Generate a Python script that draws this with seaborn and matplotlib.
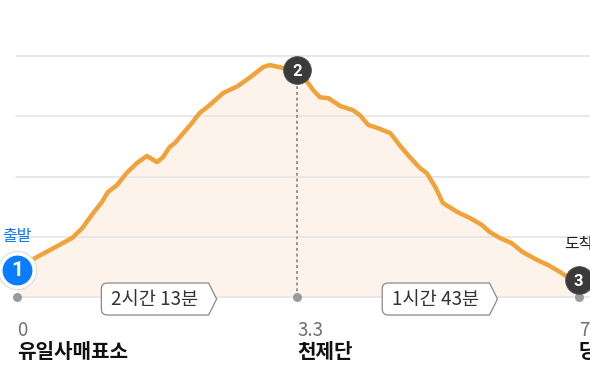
import numpy as np
import pandas as pd
import matplotlib
matplotlib.use("Agg")
import matplotlib.pyplot as plt
import seaborn as sns
from matplotlib.path import Path

# ---- data ----
dist = [0.00, 0.21, 0.39, 0.65, 0.77, 0.88, 1.00, 1.07, 1.18, 1.29, 1.41, 1.53, 1.65,
        1.72, 1.80, 1.86, 1.96, 2.06, 2.15, 2.27, 2.43, 2.60, 2.75, 2.90, 2.98, 3.14,
        3.30, 3.39, 3.49, 3.57, 3.67, 3.81, 3.96, 4.04, 4.14, 4.25, 4.40, 4.51, 4.63,
        4.75, 4.83, 4.93, 5.02, 5.19, 5.34, 5.48, 5.57, 5.69, 5.83, 5.96, 6.13, 6.26,
        6.40, 6.49, 6.62]
elev = [890, 929, 956, 996, 1029, 1072, 1115, 1148, 1172, 1211, 1244, 1268, 1248,
        1264, 1298, 1311, 1344, 1377, 1410, 1437, 1477, 1500, 1530, 1563, 1570, 1560,
        1553, 1526, 1487, 1463, 1460, 1434, 1420, 1404, 1371, 1361, 1344, 1304, 1264,
        1228, 1211, 1165, 1112, 1082, 1062, 1039, 1016, 996, 979, 949, 923, 906,
        883, 866, 856]

wp_dist = [0.0, 3.3, 6.62]
wp_elev = [890, 1553, 856]
wp_num = ["1", "2", "3"]
wp_tick = ["0", "3.3", "7"]
wp_name = ["유일사매표소", "천제단", "당골"]
seg_time = ["2시간 13분", "1시간 43분"]
grid_levels = [800, 1000, 1200, 1400, 1600]

df = pd.DataFrame({"dist": dist, "elev": elev})

sns.set_theme(style="white")
plt.rcParams["font.family"] = ["Noto Sans CJK KR", "DejaVu Sans"]

W, H, DPI = 590, 383, 100
fig = plt.figure(figsize=(W / DPI, H / DPI), dpi=DPI)
ax = fig.add_axes([16 / W, 86 / H, 574 / W, 241 / H])
px_per_km = 84.85
ax.set_xlim(-1 / px_per_km, 574 / px_per_km - 1 / px_per_km)
ax.set_ylim(grid_levels[0], grid_levels[-1])
ax.set_axis_off()

base = grid_levels[0]
LINE = "#f0a23b"

# fill
ax.fill_between(df["dist"], df["elev"], base, color="#fdf3ea", lw=0, zorder=1)
# grid
for g in grid_levels:
    ax.axhline(g, color="#e6e6e6", lw=1.3, zorder=2, clip_on=False)
# dotted drop line at summit waypoint
ax.vlines(wp_dist[1], base, wp_elev[1], colors="#8c8c8c", linestyles=(0, (1.6, 1.6)),
          lw=1.3, zorder=3)
# profile line
sns.lineplot(data=df, x="dist", y="elev", color=LINE, lw=3.2, ax=ax, zorder=4,
             solid_joinstyle="round", solid_capstyle="round")
ax.set_axis_off()

# baseline dots
ax.plot(wp_dist, [base] * 3, "o", ms=6.5, color="#9a9a9a", mec="none", zorder=5,
        clip_on=False)

# waypoint markers
ax.plot(wp_dist[0], wp_elev[0], "o", ms=27.5, mfc="white", mec="#dcdcdc", mew=0.8,
        zorder=6, clip_on=False)
ax.plot(wp_dist[0], wp_elev[0], "o", ms=21.5, mfc="#0a7cff", mec="none", zorder=7,
        clip_on=False)
for i in (1, 2):
    ax.plot(wp_dist[i], wp_elev[i], "o", ms=20, mfc="#3a3a3a", mec="#555555", mew=0.6,
            zorder=6, clip_on=False)
num_sizes = [15, 12, 12]
for i in range(3):
    ax.annotate(wp_num[i], (wp_dist[i], wp_elev[i]), xytext=(0, -1),
                textcoords="offset pixels", ha="center", va="center",
                fontsize=num_sizes[i], fontweight="bold", color="white",
                family=["Roboto", "DejaVu Sans"], zorder=8, annotation_clip=False)

# start / end tags
ax.annotate("출발", (wp_dist[0], base), xytext=(0, 60), textcoords="offset pixels",
            ha="center", va="center", fontsize=11.5, color="#0f78f2",
            annotation_clip=False)
ax.annotate("도착", (wp_dist[2], base), xytext=(0, 52), textcoords="offset pixels",
            ha="center", va="center", fontsize=11.5, color="#222222",
            annotation_clip=False)

# distance ticks and names
for i in range(3):
    ax.annotate(wp_tick[i], (wp_dist[i], base), xytext=(0, -33),
                textcoords="offset pixels", ha="left", va="center", fontsize=13.5,
                color="#707070", annotation_clip=False)
    ax.annotate(wp_name[i], (wp_dist[i], base), xytext=(0, -55),
                textcoords="offset pixels", ha="left", va="center", fontsize=14.5,
                fontweight="bold", color="#111111", annotation_clip=False)


# chevron tag box
def tag_box(x0, y0, width, height, mutation_size):
    padx, half_h, tip, r = 10.0, 16.0, 8.0, 6.0
    cy = y0 + height / 2.0
    left, right = x0 - padx, x0 + width + padx
    bot, top = cy - half_h, cy + half_h
    verts = [
        (left + r, bot), (right, bot), (right + tip, cy), (right, top),
        (left + r, top), (left, top), (left, top - r),
        (left, bot + r), (left, bot), (left + r, bot), (left + r, bot),
    ]
    codes = [Path.MOVETO, Path.LINETO, Path.LINETO, Path.LINETO,
             Path.LINETO, Path.CURVE3, Path.CURVE3,
             Path.LINETO, Path.CURVE3, Path.CURVE3, Path.CLOSEPOLY]
    return Path(verts, codes)


for k in range(2):
    mid = (wp_dist[k] + wp_dist[k + 1]) / 2.0
    ax.annotate(seg_time[k], (mid, base), xytext=(-2, -2), textcoords="offset pixels",
                ha="center", va="center", fontsize=13.5, color="#333333", zorder=9,
                bbox=dict(boxstyle=tag_box, fc="white", ec="#8a8a8a", lw=0.9),
                annotation_clip=False)

fig.savefig("out.png", dpi=DPI)
